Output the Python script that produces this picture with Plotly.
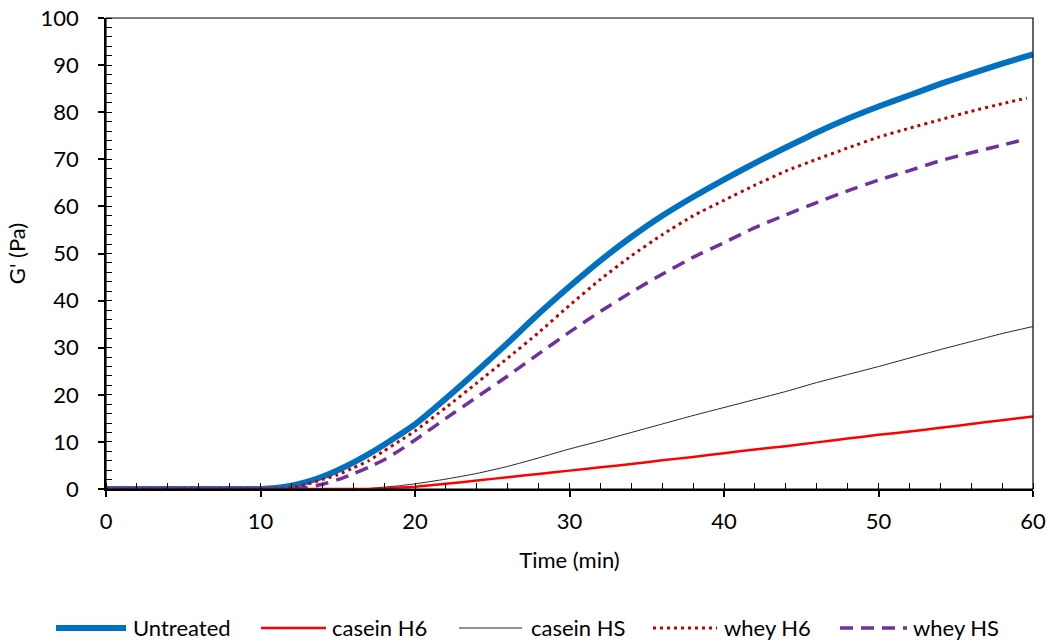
import plotly.graph_objects as go

# ---- data ----
time = [0, 5, 10, 11, 12, 13, 14, 15, 16, 17, 18, 19, 20,
        22, 24, 26, 28, 30, 32, 34, 36, 38, 40, 42, 44, 46, 48, 50, 52, 54, 56, 58, 60]
time_whey_h6 = [0, 5, 10, 11, 12, 13, 14, 15, 16, 17, 18, 19, 20,
                22, 24, 26, 28, 30, 32, 34, 36, 38, 40, 42, 44, 46, 48, 50, 52, 54, 56, 58, 59.6]
time_whey_hs = [0, 5, 10, 11, 12, 13, 14, 15, 16, 17, 18, 19, 20,
                22, 24, 26, 28, 30, 32, 34, 36, 38, 40, 42, 44, 46, 48, 50, 52, 54, 56, 58, 59.2]

untreated = [0, 0, 0, 0.2, 0.7, 1.5, 2.6, 4.0, 5.6, 7.4, 9.4, 11.5, 13.7,
             19.2, 25.0, 31.0, 37.2, 43.0, 48.5, 53.5, 58.0, 62.0, 65.7, 69.2, 72.5,
             75.7, 78.6, 81.2, 83.6, 86.0, 88.2, 90.3, 92.3]
casein_h6 = [0, 0, 0, 0, 0, 0, 0, 0, 0, 0, 0.1, 0.3, 0.5,
             1.1, 1.8, 2.5, 3.2, 3.9, 4.6, 5.3, 6.1, 6.8, 7.6, 8.4, 9.1,
             9.9, 10.7, 11.5, 12.2, 13.0, 13.8, 14.6, 15.4]
casein_hs = [0, 0, 0, 0, 0, 0, 0, 0, 0, 0.1, 0.4, 0.7, 1.1,
             2.1, 3.3, 4.8, 6.6, 8.5, 10.2, 12.0, 13.8, 15.6, 17.3, 19.0, 20.7,
             22.6, 24.3, 26.0, 27.8, 29.6, 31.3, 33.0, 34.5]
whey_h6 = [0, 0, 0, 0, 0.3, 1.0, 2.0, 3.0, 4.5, 6.0, 8.1, 10.2, 12.3,
           17.3, 22.5, 27.8, 33.2, 39.0, 44.5, 49.5, 54.0, 58.0, 61.3, 64.5, 67.5,
           70.0, 72.4, 74.7, 76.6, 78.4, 80.2, 81.8, 83.0]
whey_hs = [0, 0, 0, 0, 0, 0.3, 1.0, 2.0, 3.2, 4.6, 6.2, 8.2, 10.4,
           15.0, 19.5, 24.0, 28.7, 33.3, 37.7, 41.8, 45.6, 49.2, 52.3, 55.5, 58.2,
           60.8, 63.3, 65.6, 67.6, 69.7, 71.4, 73.0, 74.0]

names = ["Untreated", "casein H6", "casein HS", "whey H6", "whey HS"]
colors = ["#0070C0", "#FF0000", "#262626", "#C00000", "#7030A0"]
widths = [6, 2.5, 1, 3, 3.5]
dashes = ["solid", "solid", "solid", "3px,4px", "13px,8px"]
xs = [time, time, time, time_whey_h6, time_whey_hs]
ys = [untreated, casein_h6, casein_hs, whey_h6, whey_hs]

FONT = "Lato"
fig = go.Figure()
for i in [0, 2, 1, 4, 3]:
    fig.add_trace(go.Scatter(
        x=xs[i], y=ys[i], name=names[i], mode="lines",
        line=dict(color=colors[i], width=widths[i], dash=dashes[i],
                  shape="spline", smoothing=0.5),
        showlegend=False))

# plot-area geometry (pixels) for the custom legend
L, R, T, B = 106, 17, 18, 154
W, H = 1050, 643
pw, ph = W - L - R, H - T - B

def px2x(p):
    return (p - L) / pw

def py2y(p):
    return (H - B - p) / ph

leg_y = py2y(627)
leg_line = [(56, 126), (261, 326), (459, 522), (653, 717), (840, 907)]
leg_text = [131, 330, 529, 722, 911]
shapes = [dict(type="rect", xref="paper", yref="paper", x0=0, x1=1, y0=0, y1=1,
               line=dict(color="#000", width=1.2), layer="above")]
annotations = []
for i in range(5):
    shapes.append(dict(type="line", xref="paper", yref="paper",
                       x0=px2x(leg_line[i][0]), x1=px2x(leg_line[i][1]),
                       y0=py2y(628), y1=py2y(628),
                       line=dict(color=colors[i], width=widths[i], dash=dashes[i])))
    annotations.append(dict(xref="paper", yref="paper", x=px2x(leg_text[i]), y=leg_y,
                            xanchor="left", yanchor="middle", showarrow=False,
                            text=names[i], font=dict(family=FONT, size=22, color="#000")))

axis_common = dict(showgrid=False, zeroline=False, showline=True, linecolor="#000",
                   linewidth=1.75, ticks="outside", ticklen=6, tickwidth=1.5,
                   tickcolor="#000", automargin=False,
                   tickfont=dict(family=FONT, size=22, color="#000"))

fig.update_layout(
    width=W, height=H,
    margin=dict(l=L, r=R, t=T, b=B),
    paper_bgcolor="white", plot_bgcolor="white",
    font=dict(family=FONT, size=22, color="#000"),
    xaxis=dict(range=[0, 60], tick0=0, dtick=10, ticklabelstandoff=6,
               minor=dict(dtick=2, ticks="inside", ticklen=6, tickwidth=1.25, tickcolor="#000"),
               title=dict(text="Time (min)", font=dict(family=FONT, size=22, color="#000"), standoff=19),
               **axis_common),
    yaxis=dict(range=[0, 100], tick0=0, dtick=10, ticklabelstandoff=15,
               minor=dict(dtick=2, ticks="inside", ticklen=6, tickwidth=1.25, tickcolor="#000"),
               title=dict(text="G' (Pa)", font=dict(family=FONT, size=22, color="#000"), standoff=9),
               **axis_common),
    xaxis2=dict(overlaying="x", anchor="y", side="bottom", range=[0, 60], tick0=0, dtick=10,
                ticks="inside", ticklen=6, tickwidth=1.5, tickcolor="#000", automargin=False,
                showticklabels=False, showgrid=False, zeroline=False, showline=False),
    yaxis2=dict(overlaying="y", anchor="x", side="left", range=[0, 100], tick0=0, dtick=10,
                ticks="inside", ticklen=6, tickwidth=1.5, tickcolor="#000", automargin=False,
                showticklabels=False, showgrid=False, zeroline=False, showline=False),
    shapes=shapes, annotations=annotations,
    showlegend=False,
)

fig.write_html("out.html")
